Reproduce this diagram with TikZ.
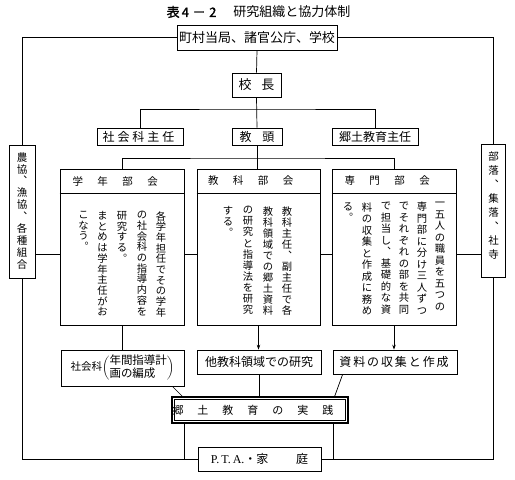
\documentclass[tikz,border=0pt]{standalone}
\usepackage{fontspec}
\setmainfont{Noto Sans CJK JP}
\newfontfamily\cjkbold[FakeBold=1.5]{Noto Sans CJK JP}
\newfontfamily\latserif{Liberation Serif}
\usetikzlibrary{arrows.meta,calc}
\def\vtend{}
\newcommand\vt[2]{\vbox{\baselineskip=#1\lineskip=0pt\lineskiplimit=-100pt\vtloop#2\vtend}}
\def\vtloop#1{\ifx#1\vtend\else\hbox to 1em{\hss#1\hss}\expandafter\vtloop\fi}
\newcommand\ls[2]{\def\lsgap{#1}\lsloop#2\vtend\hspace{-#1}}
\def\lsloop#1{\ifx#1\vtend\else#1\hspace{\lsgap}\expandafter\lsloop\fi}
\tikzset{
 bx/.style={draw, inner sep=0pt, line width=0.7pt},
 col/.style={inner sep=0pt, anchor=north},
 hd/.style={inner sep=0pt, font=\fontsize{10.5}{12}\selectfont},
 arr/.style={line width=0.7pt, -{Stealth[length=5pt,width=3.5pt]}},
}
\begin{document}
\begin{tikzpicture}[x=1pt,y=-1pt,line width=0.7pt]
\useasboundingbox (0,0) rectangle (515,480);
% title
\node[font=\fontsize{13}{15}\selectfont, inner sep=0pt] (title) at (258.5,12) {{\cjkbold 表\,4\;－\;2}\hspace{1.3em}研究組織と協力体制};
% top part
\node[bx, minimum width=160, minimum height=25, font=\fontsize{13}{15}\selectfont] (top) at (257,37.5) {町村当局、諸官公庁、学校};
\node[bx, minimum width=49, minimum height=24, font=\fontsize{13}{15}\selectfont] (kocho) at (256.5,85) {校\hspace{0.75em}長};
\node[bx, minimum width=86, minimum height=17, font=\fontsize{12}{14}\selectfont] (shakai) at (140,136.5) {\ls{3pt}{社会科主任}};
\node[bx, minimum width=50, minimum height=17, font=\fontsize{12}{14}\selectfont] (kyoto) at (257,136.5) {教\hspace{0.9em}頭};
\node[bx, minimum width=86, minimum height=17, font=\fontsize{12}{14}\selectfont] (kyodo) at (375,136.5) {郷土教育主任};
% department boxes
\node[bx, minimum width=124, minimum height=156] (gak) at (122,247) {};
\node[bx, minimum width=123, minimum height=156] (kyo) at (258.5,247) {};
\node[bx, minimum width=124, minimum height=156] (sen) at (394,247) {};
\coordinate (hdr) at (0,193);
\draw (gak.west |- hdr) -- (gak.east |- hdr);
\draw (kyo.west |- hdr) -- (kyo.east |- hdr);
\draw (sen.west |- hdr) -- (sen.east |- hdr);
\node[hd] (gakh) at (122.5,181) {\ls{14.5pt}{学年部会}};
\node[hd] (kyoh) at (258,181) {\ls{14.5pt}{教科部会}};
\node[hd] (senh) at (394.5,181) {\ls{14.5pt}{専門部会}};
% columns
\begin{scope}[every node/.style={col, font=\fontsize{10.3}{12}\selectfont}]
\node (g1) at (161,211) {\vt{10.7pt}{各学年担任でその学年}};
\node (g2) at (142,211) {\vt{10.7pt}{の社会科の指導内容を}};
\node (g3) at (122,211) {\vt{10.7pt}{研究する︒}};
\node (g4) at (102.5,211) {\vt{10.7pt}{まとめは学年主任がお}};
\node (g5) at (83.5,211) {\vt{10.7pt}{こなう︒}};
\node (k1) at (287,206) {\vt{11.1pt}{教科主任︑副主任で各}};
\node (k2) at (268,206) {\vt{11.1pt}{教科領域での郷土資料}};
\node (k3) at (248,206) {\vt{11.1pt}{の研究と指導法を研究}};
\node (k4) at (228,206) {\vt{11.1pt}{する︒}};
\node (s1) at (440,202) {\vt{11.5pt}{一五人の職員を五つの}};
\node (s2) at (422,202) {\vt{11.5pt}{専門部に分け三人ずつ}};
\node (s3) at (404,202) {\vt{11.5pt}{でそれぞれの部を共同}};
\node (s4) at (386,202) {\vt{11.5pt}{で担当し︑基礎的な資}};
\node (s5) at (367,202) {\vt{11.5pt}{料の収集と作成に務め}};
\node (s6) at (348,202) {\vt{11.5pt}{る︒}};
\end{scope}
% side boxes
\node[bx, minimum width=26, minimum height=133] (sideL) at (22,211.5) {};
\node[col, font=\fontsize{10.5}{12}\selectfont] (sideLt) at (22,152) {\vt{11.9pt}{農協︑漁協︑各種組合}};
\node[bx, minimum width=24, minimum height=133] (sideR) at (493.5,211) {};
\node[col, font=\fontsize{10.5}{12}\selectfont] (sideRt) at (493.5,151) {\vt{14pt}{部落︑集落︑社寺}};
% lower boxes
\node[bx, minimum width=123, minimum height=36] (lowL) at (122.5,368) {{\fontsize{10.5}{12}\selectfont 社会科}$\left(\begin{tabular}{@{}l@{}}\fontsize{11.5}{13}\selectfont 年間指導計\\[-1pt]\fontsize{11.5}{13}\selectfont 画の編成\end{tabular}\right)$};
\node[bx, minimum width=124, minimum height=24, font=\fontsize{12}{14}\selectfont] (lowM) at (259,362) {他教科領域での研究};
\node[bx, minimum width=124, minimum height=24, font=\fontsize{12}{14}\selectfont] (lowR) at (395,362) {\ls{1.9pt}{資料の収集と作成}};
\node[draw, line width=1.3pt, minimum width=176, minimum height=26, inner sep=0pt, font=\fontsize{11}{13}\selectfont] (jis) at (260,410) {\ls{14pt}{郷土教育の実践}};
\draw ([shift={(3pt,-3pt)}]jis.north west) rectangle ([shift={(-3pt,3pt)}]jis.south east);
\node[bx, minimum width=123, minimum height=24, font=\fontsize{12}{14}\selectfont] (pta) at (259.5,459) {{\latserif P.\,T.\,A.}・家\hspace{2.3em}庭};
% connectors
\draw (top.west) -| (sideL.north);
\draw (top.east) -| (sideR.north);
\draw (top.south) -- (kocho.north);
\draw (kocho.south) -- (kyoto.north);
\coordinate (j1) at (257,109);
\draw (shakai.north) |- (j1) -| (kyodo.north);
\draw (kyoto.south) -- (kyoto.south |- kyo.north);
\coordinate (j2) at (257,158);
\draw (gak.north) |- (j2) -| (sen.north);
\coordinate (yA) at (0,254);
\draw (sideL.east |- yA) -- (gak.west |- yA);
\draw (gak.east |- yA) -- (kyo.west |- yA);
\draw (kyo.east |- yA) -- (sen.west |- yA);
\draw (sen.east |- yA) -- (sideR.west |- yA);
\draw (gak.south) -- (gak.south |- lowL.north);
\draw[arr] (kyo.south) -- (kyo.south |- lowM.north);
\draw[arr] (sen.south) -- (sen.south |- lowR.north);
\draw ([xshift=-12pt]lowL.south east) -- ([xshift=11pt]jis.north west);
\draw (lowM.south) -- (lowM.south |- jis.north);
\draw ([xshift=10pt]lowR.south west) -- ([xshift=-14pt]jis.north east);
\coordinate (jl) at ([xshift=13pt]jis.south west);
\coordinate (jr) at ([xshift=-15pt]jis.south east);
\draw (jl) -- (jl |- pta.west);
\draw (jr) -- (jr |- pta.east);
\draw (sideL.south) |- (pta.west);
\draw (sideR.south) |- (pta.east);
\end{tikzpicture}
\end{document}
